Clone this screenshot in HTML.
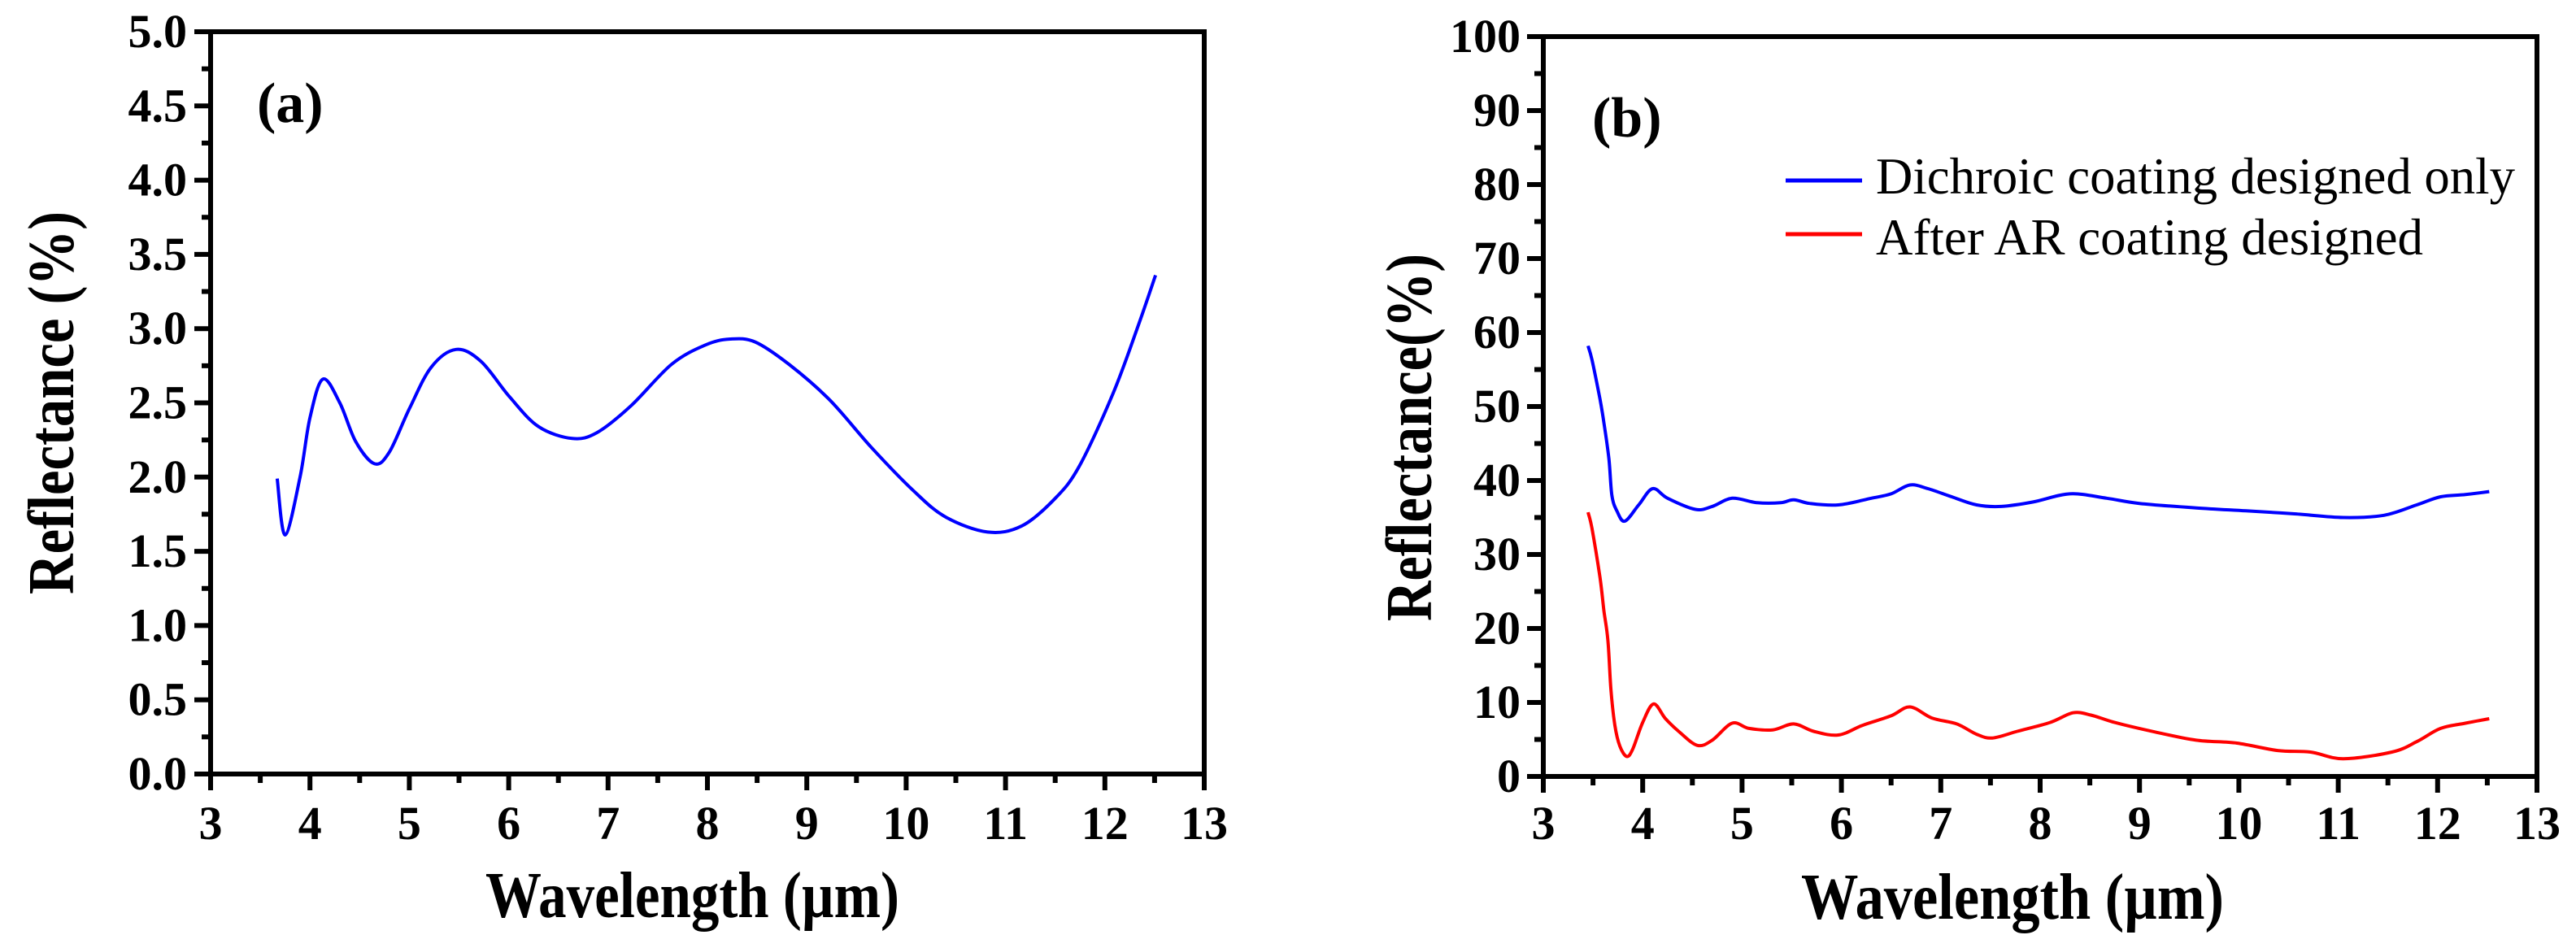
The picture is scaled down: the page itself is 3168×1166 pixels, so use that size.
<!DOCTYPE html>
<html><head><meta charset="utf-8">
<style>
html,body{margin:0;padding:0;background:#fff;}
svg{display:block;}
text{font-family:"Liberation Serif",serif;}
</style></head>
<body>
<svg id="fig" width="3168" height="1166" viewBox="0 0 3168 1166" xmlns="http://www.w3.org/2000/svg">
<rect width="3168" height="1166" fill="#fff"/>
<g id="pa"></g>
<g id="pb"></g>
</svg>
<script>
// Panel (a) data
const aX = [3.67,3.75,3.9,4.0,4.13,4.3,4.46,4.65,4.8,5.0,5.22,5.47,5.72,6.01,6.3,6.64,6.89,7.23,7.64,7.98,8.23,8.48,8.82,9.23,9.65,10.07,10.4,10.82,11.16,11.49,11.74,12.08,12.33,12.51];
const aY = [1.99,1.61,2.0,2.4,2.66,2.5,2.24,2.09,2.17,2.46,2.74,2.86,2.78,2.54,2.34,2.26,2.30,2.48,2.76,2.89,2.93,2.91,2.76,2.52,2.2,1.91,1.73,1.63,1.67,1.85,2.07,2.56,3.01,3.36];
const aYTicks = ["0.0","0.5","1.0","1.5","2.0","2.5","3.0","3.5","4.0","4.5","5.0"];
const xTicks = ["3","4","5","6","7","8","9","10","11","12","13"];
// Panel (b) data
const bBlueX = [3.45,3.49,3.57,3.61,3.66,3.69,3.74,3.82,3.96,4.1,4.25,4.53,4.7,4.9,5.15,5.39,5.52,5.68,5.97,6.3,6.5,6.69,6.87,7.11,7.36,7.61,7.93,8.3,8.67,9.0,9.57,10.07,10.56,11.05,11.46,11.79,12.03,12.28,12.52];
const bBlueY = [58.2,56.3,51,47.8,42.9,38,35.9,34.5,36.7,38.9,37.6,36.1,36.5,37.6,37,37,37.4,36.9,36.7,37.6,38.2,39.4,38.9,37.8,36.7,36.5,37.1,38.2,37.6,36.9,36.3,35.9,35.5,35,35.3,36.7,37.8,38.1,38.5];
const bRedX = [3.45,3.49,3.57,3.61,3.65,3.68,3.72,3.77,3.84,3.9,4.0,4.11,4.23,4.37,4.55,4.7,4.9,5.07,5.31,5.52,5.72,5.97,6.21,6.5,6.69,6.91,7.16,7.36,7.52,7.77,8.1,8.33,8.51,8.75,9.16,9.57,9.98,10.39,10.72,11.05,11.54,11.79,12.03,12.28,12.52];
const bRedY = [35.7,33.5,26.9,22.4,18.4,11.8,6.9,4.1,2.7,3.7,7.3,9.8,7.8,6.0,4.2,4.9,7.2,6.5,6.3,7.1,6.1,5.6,6.9,8.2,9.4,7.9,7.1,5.7,5.2,6.1,7.3,8.6,8.3,7.3,6.0,4.9,4.5,3.5,3.3,2.4,3.3,4.7,6.5,7.2,7.8];
const bYTicks = ["0","10","20","30","40","50","60","70","80","90","100"];

const NS="http://www.w3.org/2000/svg";
function mk(parent,tag,attrs){const e=document.createElementNS(NS,tag);for(const k in attrs)e.setAttribute(k,attrs[k]);parent.appendChild(e);return e;}
function smoothPath(pts){
  let d="M"+pts[0][0].toFixed(1)+","+pts[0][1].toFixed(1);
  for(let i=0;i<pts.length-1;i++){
    const p0=pts[Math.max(0,i-1)],p1=pts[i],p2=pts[i+1],p3=pts[Math.min(pts.length-1,i+2)];
    const c1=[p1[0]+(p2[0]-p0[0])/6,p1[1]+(p2[1]-p0[1])/6];
    const c2=[p2[0]-(p3[0]-p1[0])/6,p2[1]-(p3[1]-p1[1])/6];
    d+=" C"+c1[0].toFixed(1)+","+c1[1].toFixed(1)+" "+c2[0].toFixed(1)+","+c2[1].toFixed(1)+" "+p2[0].toFixed(1)+","+p2[1].toFixed(1);
  }
  return d;
}
function panel(g,o){
  const sx=v=>o.x0+(v-3)/10*(o.x1-o.x0);
  const sy=v=>o.y1-(v-o.ymin)/(o.ymax-o.ymin)*(o.y1-o.y0);
  for(let i=0;i<xTicks.length;i++){
    const v=parseFloat(xTicks[i]);const x=sx(v);
    const t=mk(g,'line',{x1:x,y1:o.y1,x2:x,y2:o.y1+20,stroke:'#000','stroke-width':6});
    
    
    if(i<xTicks.length-1){const m=mk(g,'line',{x1:sx(v+0.5),y1:o.y1,x2:sx(v+0.5),y2:o.y1+11,stroke:'#000','stroke-width':6});
      
      }
    const lb=mk(g,'text',{x:x,y:1032,'text-anchor':'middle','font-size':58,'font-weight':'bold'});
    lb.textContent=xTicks[i];
    
    
  }
  const step=(o.ymax-o.ymin)/(o.yTicks.length-1);
  for(let i=0;i<o.yTicks.length;i++){
    const v=o.ymin+i*step;const y=sy(v);
    const t=mk(g,'line',{x1:o.x0-20,y1:y,x2:o.x0,y2:y,stroke:'#000','stroke-width':6});
    
    
    if(i<o.yTicks.length-1){const m=mk(g,'line',{x1:o.x0-11,y1:sy(v+step/2),x2:o.x0,y2:sy(v+step/2),stroke:'#000','stroke-width':6});
      
      }
    const lb=mk(g,'text',{x:o.labX,y:y+19,'text-anchor':'end','font-size':58,'font-weight':'bold'});
    lb.textContent=o.yTicks[i];
    
    
  }
  o.series.forEach(s=>{
    const pts=s.x.map((xv,i)=>[sx(xv),sy(s.y[i])]);
    const p=mk(g,'path',{d:smoothPath(pts),fill:'none',stroke:s.color,'stroke-width':4,'stroke-linejoin':'round'});
    
    
  });
  const fr=mk(g,'rect',{x:o.x0,y:o.y0,width:o.x1-o.x0,height:o.y1-o.y0,fill:'none',stroke:'#000','stroke-width':6});
  
  
}
panel(document.getElementById('pa'),{x0:259,x1:1481,y0:39,y1:952,ymin:0,ymax:5,yTicks:aYTicks,labX:230,
  series:[{x:aX,y:aY,color:'#0000ff',name:'reflectance-line'}]});
panel(document.getElementById('pb'),{x0:1898,x1:3120,y0:45,y1:955,ymin:0,ymax:100,yTicks:bYTicks,labX:1870,
  series:[{x:bBlueX,y:bBlueY,color:'#0000ff',name:'dichroic-line'},{x:bRedX,y:bRedY,color:'#ff0000',name:'after-ar-line'}]});
</script>
<svg style="position:absolute;left:0;top:0" width="3168" height="1166">
<text x="316" y="150" font-size="70" font-weight="bold" font-family="Liberation Serif,serif">(a)</text>
<text x="1958" y="168" font-size="70" font-weight="bold" font-family="Liberation Serif,serif">(b)</text>
<text x="597" y="1128" font-size="80" font-weight="bold" textLength="509" lengthAdjust="spacingAndGlyphs" font-family="Liberation Serif,serif">Wavelength (µm)</text>
<text x="2215" y="1130" font-size="80" font-weight="bold" textLength="520" lengthAdjust="spacingAndGlyphs" font-family="Liberation Serif,serif">Wavelength (µm)</text>
<text transform="translate(90,731) rotate(-90)" font-size="80" font-weight="bold" textLength="471" lengthAdjust="spacingAndGlyphs" font-family="Liberation Serif,serif">Reflectance (%)</text>
<text transform="translate(1760,764) rotate(-90)" font-size="80" font-weight="bold" textLength="452" lengthAdjust="spacingAndGlyphs" font-family="Liberation Serif,serif">Reflectance(%)</text>
<line x1="2196" y1="222" x2="2290" y2="222" stroke="#0000ff" stroke-width="5"/>
<text x="2307" y="238" font-size="64" textLength="786" lengthAdjust="spacingAndGlyphs" font-family="Liberation Serif,serif">Dichroic coating designed only</text>
<line x1="2196" y1="288" x2="2290" y2="288" stroke="#ff0000" stroke-width="5"/>
<text x="2307" y="313" font-size="64" textLength="673" lengthAdjust="spacingAndGlyphs" font-family="Liberation Serif,serif">After AR coating designed</text>
</svg>
</body></html>
